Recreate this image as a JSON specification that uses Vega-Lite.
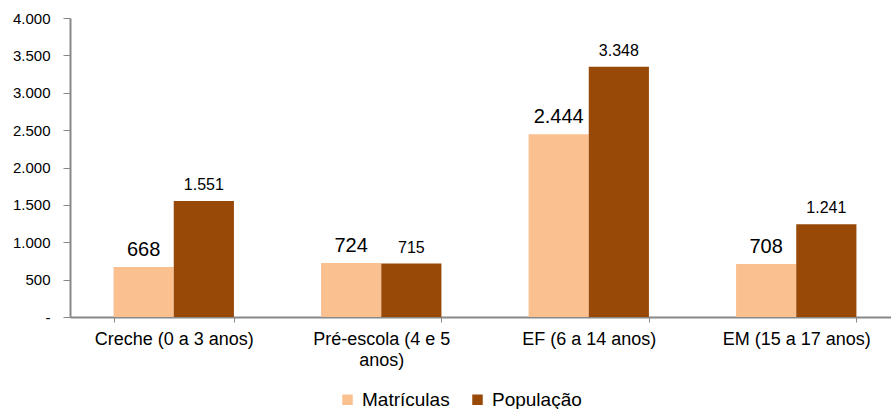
{
  "$schema": "https://vega.github.io/schema/vega-lite/v6.json",
  "autosize": "none",
  "padding": {"left": 70, "top": 18, "right": 0, "bottom": 92},
  "width": 830,
  "height": 299,
  "background": "white",
  "config": {
    "locale": {"number": {"decimal": ",", "thousands": ".", "grouping": [3], "currency": ["R$", ""]}},
    "font": "Liberation Sans",
    "view": {"stroke": null}
  },
  "data": {
    "values": [
      {"categoria": "Creche (0 a 3 anos)", "serie": "Matrículas", "valor": 668},
      {"categoria": "Creche (0 a 3 anos)", "serie": "População", "valor": 1551},
      {"categoria": "Pré-escola (4 e 5 anos)", "serie": "Matrículas", "valor": 724},
      {"categoria": "Pré-escola (4 e 5 anos)", "serie": "População", "valor": 715},
      {"categoria": "EF (6 a 14 anos)", "serie": "Matrículas", "valor": 2444},
      {"categoria": "EF (6 a 14 anos)", "serie": "População", "valor": 3348},
      {"categoria": "EM (15 a 17 anos)", "serie": "Matrículas", "valor": 708},
      {"categoria": "EM (15 a 17 anos)", "serie": "População", "valor": 1241}
    ]
  },
  "encoding": {
    "x": {
      "field": "categoria", "type": "nominal", "sort": null, "title": null,
      "scale": {"paddingInner": 0.42, "paddingOuter": 0.21},
      "axis": {
        "labelAngle": 0, "labelFontSize": 18, "labelColor": "#000", "labelPadding": 8,
        "labelLineHeight": 21, "labelBaseline": "top",
        "labelExpr": "datum.label == 'Pré-escola (4 e 5 anos)' ? ['Pré-escola (4 e 5', 'anos)'] : datum.label",
        "tickBand": "extent", "tickSize": 5, "tickColor": "#888", "domainColor": "#888", "domainWidth": 2,
        "labelLimit": 300
      }
    },
    "xOffset": {"field": "serie", "type": "nominal", "sort": ["Matrículas", "População"]},
    "y": {
      "field": "valor", "type": "quantitative", "title": null,
      "scale": {"domain": [0, 4000], "nice": false},
      "axis": {
        "values": [0, 500, 1000, 1500, 2000, 2500, 3000, 3500, 4000],
        "labelExpr": "datum.value == 0 ? '-' : replace(format(datum.value, ','), ',', '.')",
        "grid": false, "labelFontSize": 15, "labelColor": "#000", "labelPadding": 13,
        "tickSize": 7, "tickColor": "#888", "domainColor": "#888", "domainWidth": 2
      }
    }
  },
  "layer": [
    {
      "mark": {"type": "bar"},
      "encoding": {
        "color": {
          "field": "serie", "type": "nominal", "sort": ["Matrículas", "População"],
          "scale": {"domain": ["Matrículas", "População"], "range": ["#FAC090", "#984807"]},
          "legend": {
            "title": null, "orient": "none", "direction": "horizontal",
            "legendX": 268, "legendY": 372,
            "symbolType": "square", "symbolSize": 110, "symbolStrokeWidth": 0,
            "labelFontSize": 19, "labelColor": "#000", "labelOffset": 5, "columnPadding": 18
          }
        }
      }
    },
    {
      "transform": [{"filter": "datum.serie == 'Matrículas'"}],
      "mark": {"type": "text", "baseline": "alphabetic", "dy": -11, "fontSize": 20, "color": "#000"},
      "encoding": {"text": {"field": "valor", "type": "quantitative", "format": ","}}
    },
    {
      "transform": [{"filter": "datum.serie == 'População'"}],
      "mark": {"type": "text", "baseline": "alphabetic", "dy": -11, "fontSize": 16, "color": "#000"},
      "encoding": {"text": {"field": "valor", "type": "quantitative", "format": ","}}
    }
  ]
}
